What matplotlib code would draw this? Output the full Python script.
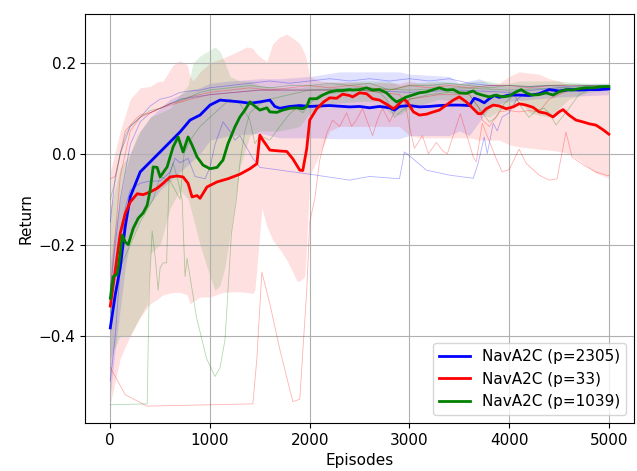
import matplotlib
matplotlib.use("Agg")
import matplotlib.pyplot as plt

plt.rcParams["font.size"] = 11

# ---- NavA2C (p=2305) ----
blue_ep = [0, 50, 100, 150, 200, 300, 400, 500, 600, 700, 800, 900, 1000, 1100, 1200, 1300,
           1400, 1500, 1600, 1650, 1700, 1800, 1900, 2000, 2200, 2400, 2500, 2600, 2700, 2800,
           2850, 2900, 3000, 3100, 3200, 3300, 3400, 3500, 3600, 3650, 3700, 3750, 3800, 3850,
           3900, 4000, 4100, 4200, 4300, 4400, 4500, 4600, 4700, 4800, 4900, 5000]
blue_mean = [-0.383, -0.31, -0.25, -0.16, -0.095, -0.04, -0.018, 0.004, 0.026, 0.048, 0.074,
             0.085, 0.107, 0.118, 0.116, 0.114, 0.111, 0.114, 0.118, 0.104, 0.100, 0.104, 0.106,
             0.104, 0.106, 0.103, 0.104, 0.101, 0.104, 0.101, 0.096, 0.104, 0.106, 0.103, 0.104,
             0.106, 0.107, 0.107, 0.106, 0.122, 0.118, 0.112, 0.121, 0.128, 0.124, 0.129, 0.129,
             0.128, 0.132, 0.141, 0.138, 0.141, 0.140, 0.141, 0.141, 0.143]
blue_band_ep = [0, 50, 100, 150, 200, 300, 400, 500, 600, 700, 800, 900, 1000, 1200, 1500, 1700,
                2000, 2300, 2900, 3000, 3400, 3500, 3600, 3700, 3800, 3900, 4000, 4500, 5000]
blue_lo = [-0.53, -0.43, -0.34, -0.25, -0.19, -0.14, -0.11, -0.08, -0.06, -0.04, -0.02, 0.0,
           0.03, 0.04, 0.045, 0.035, 0.035, 0.033, 0.033, 0.04, 0.04, 0.05, 0.04, 0.07, 0.10,
           0.11, 0.115, 0.125, 0.13]
blue_hi = [-0.24, -0.16, -0.1, -0.04, 0.0, 0.05, 0.08, 0.1, 0.12, 0.13, 0.14, 0.145, 0.155,
           0.16, 0.165, 0.165, 0.17, 0.18, 0.18, 0.175, 0.17, 0.155, 0.16, 0.165, 0.155, 0.15,
           0.148, 0.152, 0.155]
blue_top_ep = [0, 50, 100, 150, 200, 300, 400, 500, 600, 700, 800, 900, 1000, 1200, 1400, 1600,
               1800, 2000, 2200, 2400, 2600, 2800, 3000, 3200, 3400, 3600, 3800, 4000, 4200,
               4400, 4600, 4800, 5000]
blue_top = [-0.15, -0.05, 0.0, 0.03, 0.06, 0.08, 0.105, 0.12, 0.125, 0.135, 0.138, 0.14, 0.145,
            0.15, 0.155, 0.16, 0.155, 0.16, 0.165, 0.16, 0.165, 0.16, 0.165, 0.16, 0.165, 0.155,
            0.15, 0.15, 0.148, 0.15, 0.148, 0.15, 0.145]
blue_mid_ep = [0, 100, 200, 300, 400, 500, 700, 1000, 1500, 2000, 2500, 3000, 3500, 4000, 4500, 5000]
blue_mid = [-0.3, -0.1, 0.02, 0.07, 0.09, 0.1, 0.12, 0.13, 0.14, 0.14, 0.14, 0.135, 0.14, 0.135,
            0.145, 0.14]
blue_low_ep = [0, 50, 100, 150, 200, 300, 400, 500, 600, 650, 700, 780, 850, 950, 1000, 1050,
               1130, 1200, 1250, 1300, 1350, 1430, 1500, 1700, 2000, 2400, 2600, 2900, 2950,
               3030, 3170, 3400, 3640, 3690, 3750, 3780, 3840, 3880, 3930, 4000, 4070, 4130,
               4300, 4500, 4700, 5000]
blue_low = [-0.5, -0.4, -0.25, -0.12, -0.08, -0.065, -0.06, -0.06, -0.04, -0.01, -0.02, -0.01,
            -0.05, -0.055, -0.03, 0.02, 0.07, 0.05, 0.03, 0.04, 0.02, -0.01, -0.03, -0.036,
            -0.045, -0.058, -0.05, -0.055, 0.004, -0.01, -0.036, -0.047, -0.054, -0.02, 0.037,
            0.0, 0.067, 0.05, 0.081, 0.09, 0.118, 0.128, 0.13, 0.135, 0.14, 0.14]

# ---- NavA2C (p=33) ----
red_ep = [0, 50, 100, 150, 200, 270, 330, 400, 470, 530, 600, 670, 730, 780, 820, 870, 900, 970,
          1070, 1180, 1300, 1400, 1470, 1500, 1530, 1600, 1700, 1770, 1830, 1900, 1930, 1970,
          2000, 2070, 2140, 2200, 2270, 2330, 2400, 2430, 2500, 2570, 2630, 2700, 2770, 2840,
          2870, 2940, 2970, 3040, 3100, 3170, 3240, 3300, 3370, 3440, 3500, 3570, 3640, 3690,
          3720, 3770, 3840, 3900, 3970, 4040, 4100, 4170, 4240, 4300, 4370, 4440, 4500, 4540,
          4600, 4670, 4740, 4800, 4870, 4940, 5000]
red_mean = [-0.335, -0.256, -0.175, -0.131, -0.106, -0.088, -0.09, -0.084, -0.076, -0.065,
            -0.051, -0.049, -0.051, -0.065, -0.095, -0.092, -0.098, -0.073, -0.062, -0.055,
            -0.045, -0.033, -0.022, 0.041, 0.03, 0.008, 0.006, 0.005, -0.011, -0.036, -0.037,
            0.011, 0.074, 0.099, 0.114, 0.123, 0.122, 0.131, 0.128, 0.125, 0.134, 0.132, 0.121,
            0.118, 0.109, 0.099, 0.104, 0.12, 0.116, 0.092, 0.085, 0.087, 0.092, 0.096, 0.107,
            0.118, 0.125, 0.114, 0.099, 0.088, 0.088, 0.099, 0.107, 0.105, 0.099, 0.103, 0.11,
            0.107, 0.102, 0.092, 0.089, 0.081, 0.092, 0.097, 0.085, 0.074, 0.07, 0.066, 0.063,
            0.053, 0.043]
red_band_ep = [0, 100, 200, 300, 400, 470, 530, 630, 700, 770, 800, 830, 900, 1000, 1130, 1270,
               1370, 1430, 1450, 1490, 1520, 1570, 1630, 1700, 1770, 1830, 1870, 1900, 1950,
               1970, 1990, 2000, 2100, 2200, 2300, 2900, 3000, 3100, 3600, 3700, 3900, 4000,
               4100, 4300, 4400, 4500, 4600, 4700, 4870, 5000]
red_lo = [-0.55, -0.45, -0.4, -0.36, -0.33, -0.32, -0.31, -0.305, -0.305, -0.31, -0.33, -0.325,
          -0.315, -0.315, -0.305, -0.303, -0.305, -0.307, -0.30, -0.2, -0.12, -0.16, -0.19,
          -0.21, -0.234, -0.26, -0.28, -0.28, -0.27, -0.2, -0.1, -0.05, 0.0, 0.05, 0.06, 0.06,
          0.04, 0.035, 0.035, 0.03, 0.03, 0.02, 0.015, 0.01, 0.008, 0.005, 0.0, -0.014, -0.043,
          -0.054]
red_hi = [-0.04, 0.05, 0.12, 0.145, 0.148, 0.158, 0.16, 0.195, 0.205, 0.195, 0.17, 0.16, 0.18,
          0.2, 0.21, 0.224, 0.235, 0.232, 0.225, 0.215, 0.21, 0.203, 0.242, 0.257, 0.263, 0.254,
          0.248, 0.242, 0.22, 0.205, 0.18, 0.17, 0.16, 0.158, 0.158, 0.155, 0.16, 0.155, 0.155,
          0.15, 0.155, 0.17, 0.18, 0.175, 0.165, 0.16, 0.15, 0.15, 0.15, 0.15]
red_top_ep = [0, 50, 100, 150, 250, 300, 400, 500, 600, 700, 800, 900, 1000, 1200, 1400, 1600,
              1800, 2000, 2200, 2400, 2600, 2800, 3000, 3200, 3400, 3600, 3800, 4000, 4200,
              4400, 4600, 4800, 5000]
red_top = [-0.055, -0.05, 0.0, 0.05, 0.075, 0.085, 0.09, 0.1, 0.11, 0.115, 0.125, 0.13, 0.135,
           0.14, 0.145, 0.14, 0.145, 0.15, 0.145, 0.15, 0.145, 0.14, 0.15, 0.145, 0.15, 0.145,
           0.15, 0.15, 0.145, 0.15, 0.15, 0.15, 0.15]
red_mid_ep = [0, 100, 200, 300, 500, 800, 1000, 1500, 2000, 2500, 2900, 2960, 3000, 3300, 3600,
              3700, 3730, 3800, 3900, 4000, 4100, 4200, 4300, 4400, 4600, 4800, 5000]
red_mid = [-0.3, -0.05, 0.05, 0.08, 0.1, 0.12, 0.13, 0.14, 0.14, 0.14, 0.13, 0.11, 0.12, 0.13,
           0.13, 0.1, 0.074, 0.06, 0.092, 0.095, 0.092, 0.095, 0.092, 0.12, 0.14, 0.145, 0.15]
red_low_ep = [0, 150, 370, 800, 1430, 1470, 1520, 1600, 1700, 1830, 1900, 1970, 2000, 2050,
              2100, 2170, 2230, 2300, 2370, 2420, 2470, 2530, 2570, 2630, 2680, 2730, 2800,
              2870, 2950, 3000, 3050, 3130, 3190, 3270, 3340, 3380, 3510, 3640, 3670, 3730,
              3870, 3930, 4000, 4100, 4170, 4300, 4400, 4480, 4570, 4630, 4740, 4870, 4970,
              5000]
red_low = [-0.47, -0.53, -0.555, -0.553, -0.55, -0.45, -0.26, -0.33, -0.43, -0.545, -0.54,
           -0.3, -0.15, -0.1, -0.014, 0.045, 0.074, 0.06, 0.09, 0.06, 0.075, 0.1, 0.075, 0.04,
           0.075, 0.1, 0.07, 0.1, 0.12, 0.06, 0.012, 0.04, 0.0, 0.025, 0.005, 0.0, 0.088,
           -0.007, -0.018, 0.067, -0.011, -0.04, -0.035, 0.01, -0.021, -0.047, -0.058, -0.055,
           0.048, -0.007, -0.024, -0.04, -0.047, -0.048]

# ---- NavA2C (p=1039) ----
green_ep = [0, 30, 70, 100, 120, 150, 180, 230, 280, 330, 370, 400, 430, 470, 500, 570, 630,
            680, 730, 780, 820, 870, 930, 1000, 1070, 1130, 1180, 1250, 1300, 1350, 1400, 1430,
            1500, 1570, 1600, 1670, 1730, 1800, 1870, 1930, 1970, 2000, 2070, 2130, 2200, 2270,
            2330, 2400, 2430, 2500, 2570, 2630, 2700, 2770, 2830, 2870, 2910, 2960, 3030, 3100,
            3170, 3240, 3300, 3370, 3440, 3500, 3570, 3640, 3670, 3730, 3800, 3870, 3930, 4000,
            4070, 4120, 4170, 4230, 4300, 4370, 4440, 4500, 4570, 4630, 4700, 4770, 4840, 4900,
            5000]
green_mean = [-0.318, -0.27, -0.265, -0.219, -0.179, -0.194, -0.2, -0.164, -0.142, -0.13,
              -0.113, -0.08, -0.029, -0.03, -0.051, -0.029, 0.015, 0.037, 0.004, 0.037, 0.019,
              -0.007, -0.025, -0.033, -0.03, -0.014, 0.022, 0.059, 0.081, 0.096, 0.114, 0.108,
              0.096, 0.101, 0.092, 0.091, 0.096, 0.1, 0.101, 0.099, 0.104, 0.121, 0.121, 0.129,
              0.136, 0.139, 0.139, 0.141, 0.14, 0.141, 0.145, 0.14, 0.141, 0.134, 0.121, 0.114,
              0.118, 0.124, 0.129, 0.134, 0.136, 0.141, 0.145, 0.14, 0.141, 0.134, 0.133, 0.138,
              0.133, 0.129, 0.125, 0.129, 0.125, 0.127, 0.136, 0.141, 0.134, 0.129, 0.13, 0.134,
              0.129, 0.136, 0.141, 0.14, 0.143, 0.145, 0.145, 0.147, 0.148]
green_band_ep = [0, 100, 200, 270, 370, 400, 500, 600, 700, 780, 830, 900, 1000, 1050, 1100,
                 1150, 1200, 1300, 1400, 1500, 1700, 1900, 2000, 2200, 2500, 2700, 2800, 2900,
                 3000, 3300, 3500, 3700, 3800, 3900, 4000, 4100, 4200, 4400, 4500, 4600, 4800,
                 5000]
green_lo = [-0.45, -0.40, -0.40, -0.37, -0.33, -0.22, -0.2, -0.12, -0.08, -0.1, -0.14, -0.2,
            -0.27, -0.3, -0.29, -0.25, -0.18, -0.03, 0.04, 0.05, 0.05, 0.06, 0.09, 0.11, 0.115,
            0.115, 0.09, 0.085, 0.1, 0.12, 0.115, 0.09, 0.08, 0.095, 0.1, 0.12, 0.09, 0.08, 0.1,
            0.12, 0.135, 0.14]
green_hi = [-0.12, -0.03, 0.0, 0.04, 0.07, 0.08, 0.09, 0.1, 0.13, 0.15, 0.2, 0.215, 0.228,
            0.235, 0.225, 0.2, 0.17, 0.16, 0.16, 0.15, 0.145, 0.145, 0.15, 0.155, 0.16, 0.16,
            0.16, 0.15, 0.155, 0.16, 0.155, 0.16, 0.16, 0.155, 0.155, 0.16, 0.16, 0.16, 0.16,
            0.158, 0.155, 0.155]
green_top_ep = [0, 50, 100, 150, 200, 300, 400, 500, 600, 700, 800, 900, 1000, 1200, 1400,
                1600, 1800, 2000, 2200, 2400, 2600, 2800, 3000, 3200, 3400, 3600, 3800, 4000,
                4200, 4400, 4600, 4800, 5000]
green_top = [-0.1, -0.06, 0.0, 0.04, 0.06, 0.08, 0.095, 0.1, 0.11, 0.118, 0.125, 0.135, 0.14,
             0.145, 0.15, 0.145, 0.15, 0.15, 0.155, 0.15, 0.155, 0.14, 0.15, 0.15, 0.155, 0.15,
             0.145, 0.15, 0.148, 0.15, 0.152, 0.15, 0.15]
green_mid_ep = [0, 100, 200, 300, 430, 500, 600, 700, 740, 800, 900, 1000, 1100, 1200, 1300,
                1400, 1450, 1500, 1600, 1700, 1800, 1870, 1930, 2000, 2100, 2300, 2500, 2700,
                2770, 2850, 2900, 2960, 3000, 3200, 3400, 3600, 3700, 3800, 3870, 3950, 4050,
                4130, 4200, 4270, 4350, 4400, 4470, 4530, 4600, 4700, 4800, 5000]
green_mid = [-0.35, -0.25, -0.2, -0.15, -0.1, -0.05, -0.06, -0.1, 0.0, 0.03, 0.06, 0.08, 0.1,
             0.12, 0.11, 0.074, 0.022, 0.04, 0.03, 0.06, 0.088, 0.1, 0.09, 0.11, 0.13, 0.135,
             0.14, 0.135, 0.12, 0.08, 0.09, 0.1, 0.12, 0.13, 0.135, 0.13, 0.1, 0.07, 0.08, 0.11,
             0.13, 0.1, 0.08, 0.095, 0.1, 0.09, 0.063, 0.08, 0.1, 0.13, 0.14, 0.145]
green_low_ep = [0, 370, 390, 420, 450, 480, 500, 530, 565, 590, 630, 680, 720, 750, 770, 865,
                965, 1050, 1100, 1150, 1215, 1265, 1300, 1350, 1400, 1500, 1600, 1800, 2000,
                2500, 3000, 3500, 4000, 4500, 5000]
green_low = [-0.552, -0.55, -0.3, -0.17, -0.227, -0.3, -0.25, -0.24, -0.24, -0.05, -0.02,
             -0.06, -0.1, -0.27, -0.23, -0.36, -0.45, -0.49, -0.47, -0.41, -0.175, -0.1, -0.02,
             0.05, 0.09, 0.11, 0.12, 0.13, 0.14, 0.145, 0.14, 0.145, 0.14, 0.145, 0.15]

fig, ax = plt.subplots(figsize=(6.37, 4.71), dpi=100)
fig.subplots_adjust(left=0.134, right=0.995, top=0.970, bottom=0.102)

series = [
    ("NavA2C (p=2305)", "blue", blue_ep, blue_mean, blue_band_ep, blue_lo, blue_hi,
     [(blue_top_ep, blue_top), (blue_mid_ep, blue_mid), (blue_low_ep, blue_low)]),
    ("NavA2C (p=33)", "red", red_ep, red_mean, red_band_ep, red_lo, red_hi,
     [(red_top_ep, red_top), (red_mid_ep, red_mid), (red_low_ep, red_low)]),
    ("NavA2C (p=1039)", "green", green_ep, green_mean, green_band_ep, green_lo, green_hi,
     [(green_top_ep, green_top), (green_mid_ep, green_mid), (green_low_ep, green_low)]),
]

# shaded spread and individual seeds underneath
for label, color, ep, mean, bep, lo, hi, runs in series:
    ax.fill_between(bep, lo, hi, color=color, alpha=0.12, linewidth=0)
    for rx, ry in runs:
        ax.plot(rx, ry, color=color, lw=0.6, alpha=0.3)

# mean curves on top
for label, color, ep, mean, bep, lo, hi, runs in series:
    ax.plot(ep, mean, color=color, lw=2, label=label)

ax.set_xlim(-250, 5250)
ax.set_ylim(-0.592, 0.307)
ax.set_xticks([0, 1000, 2000, 3000, 4000, 5000])
ax.set_yticks([-0.4, -0.2, 0.0, 0.2])
ax.set_xlabel("Episodes")
ax.set_ylabel("Return")
ax.grid(True)
ax.legend(loc="lower right")

fig.savefig("out.png", dpi=100)
